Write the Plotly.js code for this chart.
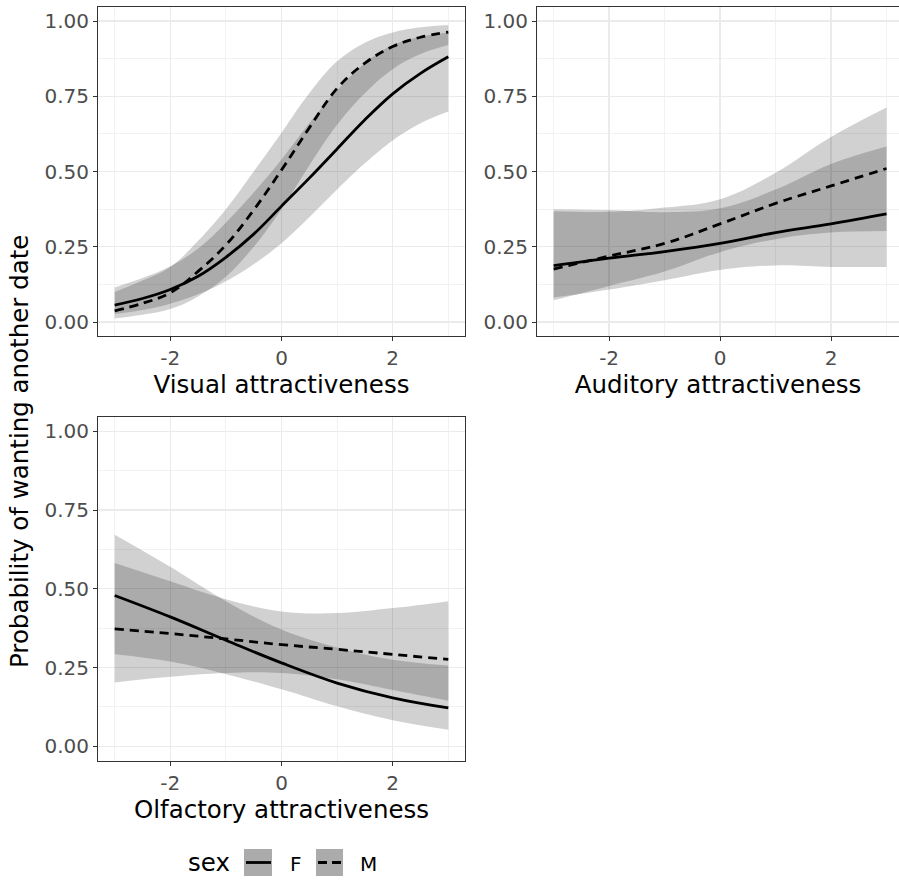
<!DOCTYPE html>
<html>
<head>
<meta charset="utf-8">
<script src="https://cdn.plot.ly/plotly-3.0.1.min.js"></script>
<style>html,body{margin:0;padding:0;background:#fff;}#chart{width:899px;height:881px;}</style>
</head>
<body>
<div id="chart"></div>
<script>
// ---- data ----
const xVisual = [-3, -2.5, -2, -1.5, -1, -0.5, 0, 0.5, 1, 1.5, 2, 2.5, 3];
const visualF   = [0.056, 0.078, 0.108, 0.152, 0.215, 0.292, 0.385, 0.478, 0.575, 0.672, 0.758, 0.826, 0.881];
const visualFlo = [0.027, 0.040, 0.061, 0.092, 0.135, 0.192, 0.262, 0.348, 0.440, 0.527, 0.603, 0.660, 0.699];
const visualFhi = [0.115, 0.146, 0.185, 0.244, 0.330, 0.430, 0.540, 0.660, 0.770, 0.860, 0.920, 0.948, 0.962];
const visualM   = [0.037, 0.062, 0.097, 0.168, 0.256, 0.372, 0.505, 0.645, 0.776, 0.860, 0.915, 0.946, 0.963];
const visualMlo = [0.012, 0.024, 0.043, 0.085, 0.150, 0.250, 0.375, 0.520, 0.655, 0.760, 0.840, 0.890, 0.920];
const visualMhi = [0.100, 0.138, 0.183, 0.270, 0.375, 0.500, 0.629, 0.760, 0.866, 0.928, 0.962, 0.979, 0.987];

const xAuditory = [-3, -2, -1, 0, 1, 2, 3];
const auditoryF   = [0.187, 0.212, 0.234, 0.261, 0.297, 0.326, 0.359];
const auditoryFlo = [0.081, 0.108, 0.139, 0.173, 0.188, 0.183, 0.183];
const auditoryFhi = [0.375, 0.372, 0.365, 0.378, 0.440, 0.525, 0.583];
const auditoryM   = [0.176, 0.219, 0.261, 0.326, 0.394, 0.452, 0.510];
const auditoryMlo = [0.072, 0.120, 0.168, 0.232, 0.275, 0.297, 0.302];
const auditoryMhi = [0.368, 0.366, 0.380, 0.408, 0.496, 0.615, 0.713];

const xOlfactory = [-3, -2, -1, 0, 1, 2, 3];
const olfactoryF   = [0.479, 0.411, 0.337, 0.265, 0.201, 0.154, 0.122];
const olfactoryFlo = [0.292, 0.269, 0.229, 0.181, 0.127, 0.083, 0.053];
const olfactoryFhi = [0.672, 0.570, 0.461, 0.371, 0.314, 0.275, 0.257];
const olfactoryM   = [0.373, 0.358, 0.341, 0.323, 0.308, 0.292, 0.276];
const olfactoryMlo = [0.203, 0.221, 0.233, 0.233, 0.213, 0.179, 0.145];
const olfactoryMhi = [0.582, 0.524, 0.467, 0.428, 0.423, 0.439, 0.461];

const sexLevels = ["F", "M"];
const legendTitle = "sex";
const xTickVals = [-2, 0, 2];
const xTickText = ["-2", "0", "2"];
const yTickVals = [0, 0.25, 0.5, 0.75, 1];
const yTickText = ["0.00", "0.25", "0.50", "0.75", "1.00"];
const xTitles = ["Visual attractiveness", "Auditory attractiveness", "Olfactory attractiveness"];
const yTitle = "Probability of wanting another date";

// ---- styling ----
const FONT = "DejaVu Sans, Liberation Sans, Arial, sans-serif";
const RIB = "rgba(0,0,0,0.18)";
const DASHES = ["solid", "9px,6px"];
const panels = [
  {x: xVisual, F: visualF, Flo: visualFlo, Fhi: visualFhi, M: visualM, Mlo: visualMlo, Mhi: visualMhi},
  {x: xAuditory, F: auditoryF, Flo: auditoryFlo, Fhi: auditoryFhi, M: auditoryM, Mlo: auditoryMlo, Mhi: auditoryMhi},
  {x: xOlfactory, F: olfactoryF, Flo: olfactoryFlo, Fhi: olfactoryFhi, M: olfactoryM, Mlo: olfactoryMlo, Mhi: olfactoryMhi}
];

const traces = [];
panels.forEach((p, i) => {
  const xa = i === 0 ? "x" : "x" + (i + 1);
  const ya = i === 0 ? "y" : "y" + (i + 1);
  const sp = {shape: "spline", smoothing: 1.1};
  [["Flo", "Fhi"], ["Mlo", "Mhi"]].forEach(([lo, hi]) => {
    traces.push({x: p.x, y: p[lo], xaxis: xa, yaxis: ya, type: "scatter", mode: "lines",
      line: Object.assign({width: 0, color: "rgba(0,0,0,0)"}, sp), showlegend: false, hoverinfo: "skip"});
    traces.push({x: p.x, y: p[hi], xaxis: xa, yaxis: ya, type: "scatter", mode: "lines", fill: "tonexty",
      fillcolor: RIB, line: Object.assign({width: 0, color: "rgba(0,0,0,0)"}, sp), showlegend: false, hoverinfo: "skip"});
  });
  traces.push({x: p.x, y: p.F, xaxis: xa, yaxis: ya, type: "scatter", mode: "lines", name: sexLevels[0],
    showlegend: false, line: Object.assign({color: "#000", width: 2.8, dash: DASHES[0]}, sp)});
  traces.push({x: p.x, y: p.M, xaxis: xa, yaxis: ya, type: "scatter", mode: "lines", name: sexLevels[1],
    showlegend: false, line: Object.assign({color: "#000", width: 2.8, dash: DASHES[1]}, sp)});
});

function xAxis(domain, range, anchor, title) {
  return {domain: domain, range: range, anchor: anchor, tickvals: xTickVals, ticktext: xTickText,
    showgrid: true, gridcolor: "#ebebeb", gridwidth: 1.3, zeroline: false,
    minor: {dtick: 1, tick0: 1, showgrid: true, gridcolor: "#efefef", gridwidth: 0.8, ticks: ""},
    showline: true, mirror: true, linecolor: "#333333", linewidth: 1,
    ticks: "outside", ticklen: 4, tickcolor: "#333333", tickwidth: 1,
    tickfont: {family: FONT, size: 20, color: "#4d4d4d"},
    title: {text: title, font: {family: FONT, size: 24.5, color: "#000"}, standoff: 6}};
}
function yAxis(domain, anchor, mirror) {
  return {domain: domain, range: [-0.0465, 1.0465], anchor: anchor, tickvals: yTickVals, ticktext: yTickText,
    showgrid: true, gridcolor: "#ebebeb", gridwidth: 1.3, zeroline: false,
    minor: {dtick: 0.25, tick0: 0.125, showgrid: true, gridcolor: "#efefef", gridwidth: 0.8, ticks: ""},
    showline: true, mirror: mirror, linecolor: "#333333", linewidth: 1,
    ticks: "outside", ticklen: 4, tickcolor: "#333333", tickwidth: 1,
    tickfont: {family: FONT, size: 20, color: "#4d4d4d"}};
}

const W = 899, H = 881;
const px = v => v / W, py = v => 1 - v / H;
const colL = [px(98), px(465)], colR = [px(537), 1];
const rowT = [py(336), py(7)], rowB = [py(761), py(416.7)];

// legend drawn as a ggplot-style key row
const legY = 862.5;
const legendShapes = [];
const legendNotes = [{text: legendTitle, xref: "paper", yref: "paper", x: px(186), y: py(legY), xanchor: "left",
  yanchor: "middle", showarrow: false, font: {family: FONT, size: 24.5, color: "#000"}}];
[[244, 272, 288], [316, 343, 358]].forEach(([b0, b1, tx], k) => {
  legendShapes.push({type: "rect", xref: "paper", yref: "paper", x0: px(b0), x1: px(b1), y0: py(legY + 13.5), y1: py(legY - 13.5),
    fillcolor: "#ababab", line: {width: 0}, layer: "above"});
  legendShapes.push({type: "line", xref: "paper", yref: "paper", x0: px(b0 + 2), x1: px(b1 - 1), y0: py(legY), y1: py(legY),
    line: {color: "#000", width: 2.8, dash: k === 0 ? "solid" : "9px,5px"}, layer: "above"});
  legendNotes.push({text: sexLevels[k], xref: "paper", yref: "paper", x: px(tx), y: py(legY + 1), xanchor: "left",
    yanchor: "middle", showarrow: false, font: {family: FONT, size: 20, color: "#000"}});
});

const layout = {
  width: W, height: H, margin: {l: 0, r: 0, t: 0, b: 0},
  paper_bgcolor: "#fff", plot_bgcolor: "#fff",
  font: {family: FONT},
  showlegend: false,
  xaxis: xAxis(colL, [-3.3, 3.3], "y", xTitles[0]),
  yaxis: yAxis(rowT, "x", true),
  xaxis2: xAxis(colR, [-3.3, 3.225], "y2", xTitles[1]),
  yaxis2: yAxis(rowT, "x2", false),
  xaxis3: xAxis(colL, [-3.3, 3.3], "y3", xTitles[2]),
  yaxis3: yAxis(rowB, "x3", true),
  annotations: [{text: yTitle, xref: "paper", yref: "paper", x: px(19), y: py(452), textangle: -90,
    showarrow: false, xanchor: "center", yanchor: "middle", font: {family: FONT, size: 24.5, color: "#000"}}].concat(legendNotes),
  shapes: legendShapes
};

Plotly.newPlot("chart", traces, layout, {staticPlot: true, displayModeBar: false});
</script>
</body>
</html>
